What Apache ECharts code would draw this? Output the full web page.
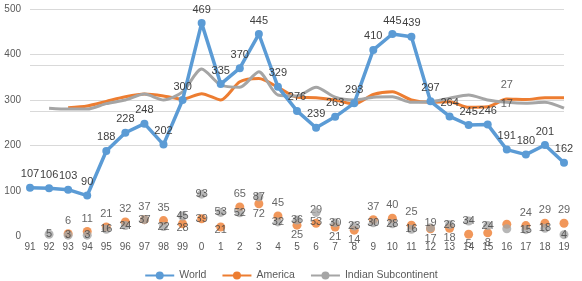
<!DOCTYPE html>
<html><head><meta charset="utf-8">
<script src="https://cdn.jsdelivr.net/npm/echarts@6/dist/echarts.min.js"></script>
<style>html,body{margin:0;padding:0;background:#fff}#c{width:582px;height:281px}</style>
</head><body><div id="c"></div>
<script>
const categories = ['91','92','93','94','95','96','97','98','99','0','1','2','3','4','5','6','7','8','9','10','11','12','13','14','15','16','17','18','19'];
const worldValues = [107,106,103,90,188,228,248,202,300,469,335,370,445,329,276,239,263,293,410,445,439,297,264,245,246,191,180,201,162];
const americaLine = [null,null,283,287,297,307,313,309,302,314,300,340,347,328,306,305,300,291,312,318,300,295,296,284,285,302,301,305,305];
const indianLine = [null,282,280,280,292,300,313,300,318,368,333,328,362,311,309,328,306,300,306,307,295,296,304,311,300,295,293,295,282];
const americaPoints = [null,null,6,11,21,32,37,35,28,39,21,65,72,45,25,29,21,14,37,40,25,17,18,5,8,27,24,29,29];
const indianPoints = [null,5,3,3,16,24,37,22,45,93,53,52,87,32,36,53,30,23,30,28,16,19,26,34,24,17,15,18,4];
const yTicks = [0,100,200,300,400,500];

const FONT = 'Liberation Sans, Arial, sans-serif';
const BLUE = '#5B9BD5', ORANGE = '#ED7D31', GRAY = '#A5A5A5';

// label placement (styling only)
const amerPlace = {8:['inside',[0,4]],9:['inside',[0,0]],10:['inside',[0,3]],12:['bottom'],14:['bottom'],16:['bottom'],17:['bottom'],21:['bottom'],22:['bottom'],23:['bottom'],24:['bottom'],25:['inside',[0,-139]]};
const indPlace = {15:['bottom'],21:['inside',[0,-5]],25:['inside',[0,-125]]};

function pts(vals, place, defPos) {
  return vals.map((v, i) => {
    if (v == null) return null;
    const p = place[i] || [defPos];
    const lab = {position: p[0], distance: p[0] === 'bottom' ? 0 : 3};
    if (p[1]) lab.offset = p[1];
    return {value: v, label: lab};
  });
}

const chart = echarts.init(document.getElementById('c'));
chart.setOption({
  animation: false,
  textStyle: {fontFamily: FONT},
  grid: {left: 30, right: 18, top: 9, bottom: 44.5, containLabel: false},
  legend: {
    data: ['World','America','Indian Subcontinent'],
    top: 265, left: 'center', itemWidth: 29, itemHeight: 10, itemGap: 15,
    textStyle: {fontSize: 10.5, color: '#595959', fontFamily: FONT}
  },
  xAxis: {
    type: 'category', data: categories, boundaryGap: false,
    axisLine: {show: false}, axisTick: {show: false},
    axisLabel: {fontSize: 10, color: '#595959', margin: 6, interval: 0, fontFamily: FONT}
  },
  yAxis: {
    type: 'value', min: yTicks[0], max: yTicks[yTicks.length-1], interval: 100,
    axisLine: {show: false}, axisTick: {show: false},
    axisLabel: {fontSize: 10, color: '#595959', margin: 9, fontFamily: FONT},
    splitLine: {show: true, lineStyle: {color: ['rgba(0,0,0,0)','rgba(0,0,0,0)','#D9D9D9','#D9D9D9','#D9D9D9','#D9D9D9'], width: 1}}
  },
  series: [
    {
      name: 'America', type: 'line', data: americaLine, z: 3,
      symbol: 'circle', showSymbol: false, smooth: 0.25, connectNulls: false,
      lineStyle: {color: ORANGE, width: 3}, itemStyle: {color: ORANGE}
    },
    {
      name: 'Indian Subcontinent', type: 'line', data: indianLine, z: 4,
      symbol: 'circle', showSymbol: false, smooth: 0.25,
      lineStyle: {color: GRAY, width: 3}, itemStyle: {color: GRAY}
    },
    {
      name: 'World', type: 'line', data: worldValues, z: 5,
      symbol: 'circle', symbolSize: 8,
      lineStyle: {color: BLUE, width: 3.5}, itemStyle: {color: BLUE},
      label: {show: true, position: 'top', fontSize: 11, color: '#404040', fontFamily: FONT, distance: 4},
      labelLayout: {hideOverlap: false},
      markLine: {
        silent: true, symbol: 'none', label: {show: false}, z: 1,
        lineStyle: {color: '#D9D9D9', width: 1, type: 'solid'},
        data: [{yAxis: 377}, {yAxis: 276}]
      }
    },
    {
      name: 'America points', type: 'scatter', data: pts(americaPoints, amerPlace, 'top'), z: 6,
      symbolSize: 9, itemStyle: {color: ORANGE},
      label: {show: true, fontSize: 11, color: '#404040', fontFamily: FONT}
    },
    {
      name: 'Indian points', type: 'scatter', data: pts(indianPoints, indPlace, 'inside'), z: 7,
      symbolSize: 9, itemStyle: {color: GRAY},
      label: {show: true, fontSize: 11, color: '#404040', fontFamily: FONT}
    }
  ]
});
</script>
</body></html>
